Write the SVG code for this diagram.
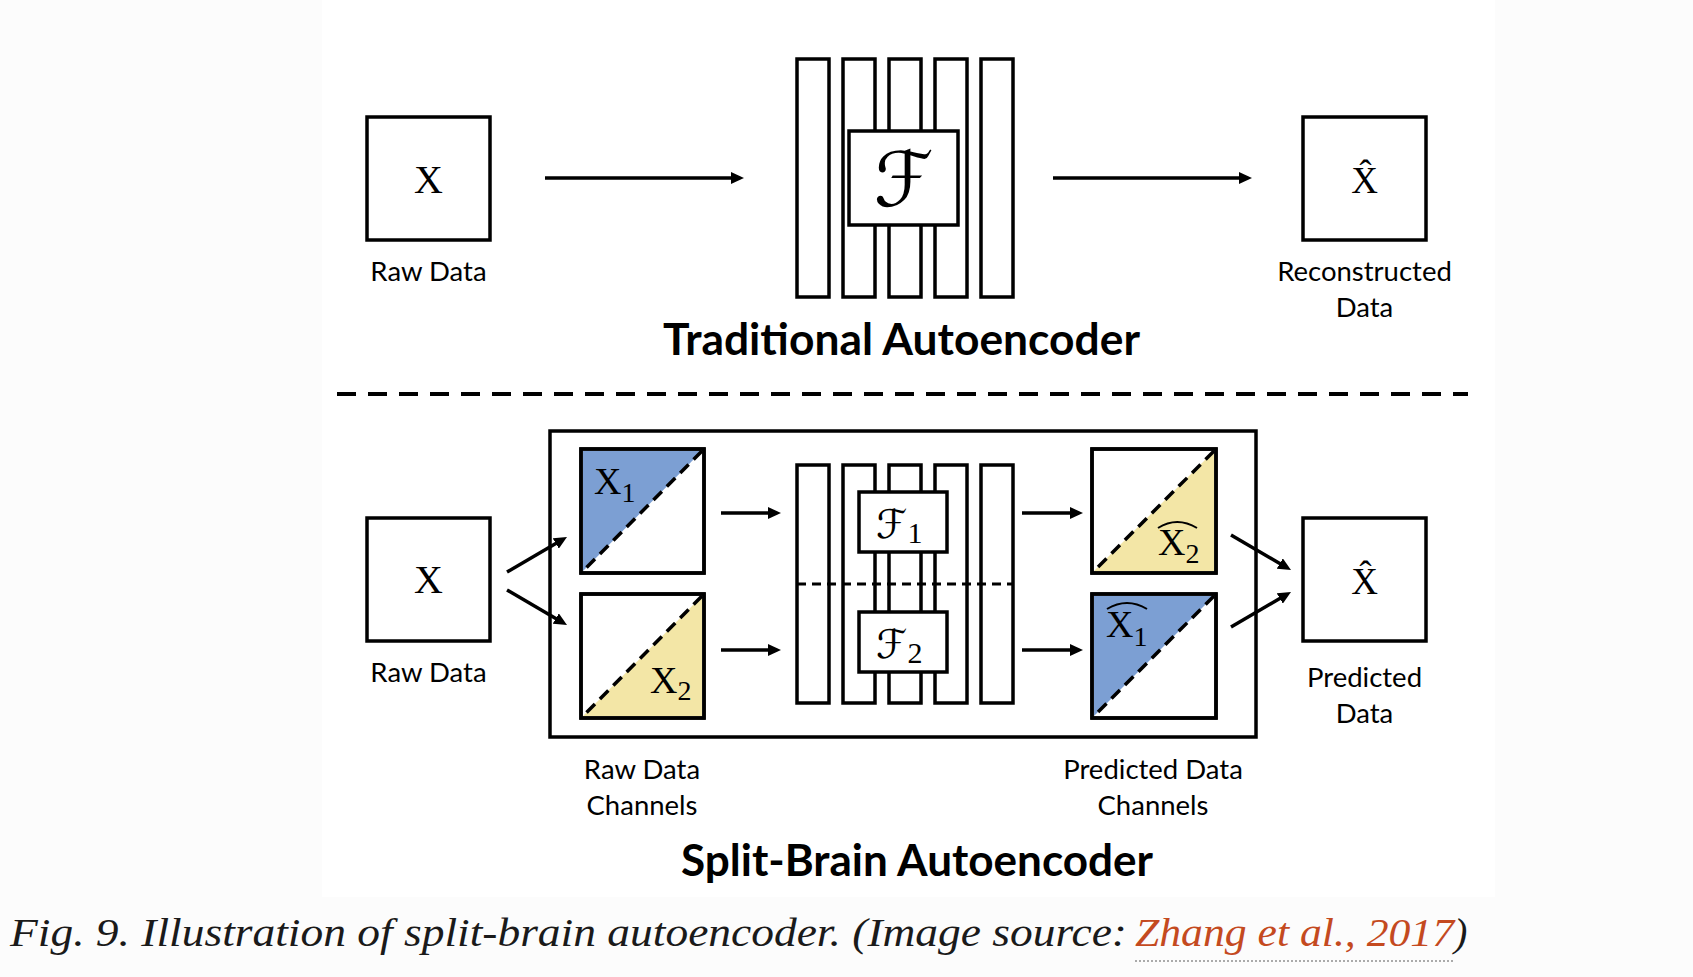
<svg xmlns="http://www.w3.org/2000/svg" width="1693" height="977" viewBox="0 0 1693 977">
<defs>
<style>
.box{fill:#fff;stroke:#000;stroke-width:3.5}
.bar{fill:#fff;stroke:#000;stroke-width:3.5}
.conn{fill:none;stroke:#000;stroke-width:3.5}
.dash{fill:none;stroke:#000;stroke-width:3.5;stroke-dasharray:12 7}
.lbl{font-family:Lato,"Open Sans","Liberation Sans",sans-serif;font-size:27.5px;fill:#000;text-anchor:middle}
.title{font-family:Lato,"Open Sans","Liberation Sans",sans-serif;font-size:43px;font-weight:bold;fill:#000;text-anchor:middle}
.math{font-family:"Liberation Serif","DejaVu Serif",serif;fill:#000}
.cal{font-family:"DejaVu Sans","DejaVu Serif",serif;fill:#000}
.blue{fill:#7c9fd3}
.yel{fill:#f3e6a6}
.cap{font-family:"Liberation Serif","DejaVu Serif",serif;font-style:italic;font-size:40px}
</style>
<marker id="ah" markerWidth="14" markerHeight="12" refX="2" refY="6" orient="auto" markerUnits="userSpaceOnUse"><path d="M0,0 L13,6 L0,12 z" fill="#000"/></marker>
</defs>
<rect x="0" y="0" width="1693" height="977" fill="#fcfcfc"/>
<rect x="322" y="0" width="1173" height="897" fill="#fff"/>

<!-- Top section -->
<g id="raw-top">
<rect class="box" x="367" y="117" width="123" height="123"/>
<text class="math" x="428.5" y="193" font-size="40" text-anchor="middle">X</text>
<text class="lbl" x="428.5" y="281">Raw Data</text>
</g>
<g id="encoder-top">
<rect class="bar" x="797" y="59" width="32" height="238"/>
<rect class="bar" x="843" y="59" width="32" height="238"/>
<rect class="bar" x="889" y="59" width="32" height="238"/>
<rect class="bar" x="935" y="59" width="32" height="238"/>
<rect class="bar" x="981" y="59" width="32" height="238"/>
<rect class="box" x="849" y="131" width="109" height="94"/>
<text class="cal" x="903.5" y="206" font-size="76" text-anchor="middle">ℱ</text>
</g>
<g id="recon">
<rect class="box" x="1303" y="117" width="123" height="123"/>
<text class="math" x="1364.5" y="193" font-size="37" text-anchor="middle">X̂</text>
<text class="lbl" x="1364.5" y="281">Reconstructed</text>
<text class="lbl" x="1364.5" y="317">Data</text>
</g>
<g id="title-traditional">
<text class="title" x="901.5" y="355" textLength="477" lengthAdjust="spacingAndGlyphs">Traditional Autoencoder</text>
</g>
<g id="divider">
<line x1="337" y1="394" x2="1468" y2="394" stroke="#000" stroke-width="4" stroke-dasharray="19 12"/>
</g>

<!-- Bottom section -->
<g id="raw-bottom">
<rect class="box" x="367" y="518" width="123" height="123"/>
<text class="math" x="428.5" y="593" font-size="40" text-anchor="middle">X</text>
<text class="lbl" x="428.5" y="682">Raw Data</text>
</g>
<g id="split-frame">
<rect class="box" x="550" y="431" width="706" height="306" fill="none"/>
</g>
<g id="tile-x1">
<rect class="box" x="581" y="449" width="123" height="124"/>
<path class="blue" d="M583,451 L702,451 L583,571 Z"/>
<line class="dash" x1="702" y1="451" x2="583" y2="571"/>
<rect x="581" y="449" width="123" height="124" fill="none" stroke="#000" stroke-width="3.5"/>
<text class="math" x="594" y="494" font-size="38">X<tspan font-size="28" dy="8">1</tspan></text>
</g>
<g id="tile-x2">
<rect class="box" x="581" y="594" width="123" height="124"/>
<path class="yel" d="M702,596 L702,716 L583,716 Z"/>
<line class="dash" x1="702" y1="596" x2="583" y2="716"/>
<rect x="581" y="594" width="123" height="124" fill="none" stroke="#000" stroke-width="3.5"/>
<text class="math" x="650" y="693" font-size="38">X<tspan font-size="28" dy="7">2</tspan></text>
</g>
<g id="encoder-bottom">
<rect class="bar" x="797" y="465" width="32" height="238"/>
<rect class="bar" x="843" y="465" width="32" height="238"/>
<rect class="bar" x="889" y="465" width="32" height="238"/>
<rect class="bar" x="935" y="465" width="32" height="238"/>
<rect class="bar" x="981" y="465" width="32" height="238"/>
<line x1="797" y1="584" x2="1014" y2="584" stroke="#000" stroke-width="3" stroke-dasharray="9 6"/>
<rect class="box" x="859" y="492" width="88" height="60"/>
<text class="cal" x="876" y="538" font-size="40">ℱ<tspan class="math" font-size="30" dy="5">1</tspan></text>
<rect class="box" x="859" y="612" width="88" height="60"/>
<text class="cal" x="876" y="658" font-size="40">ℱ<tspan class="math" font-size="30" dy="5">2</tspan></text>
</g>
<g id="tile-x2hat">
<rect class="box" x="1092" y="449" width="124" height="124"/>
<path class="yel" d="M1214,451 L1214,571 L1094,571 Z"/>
<line class="dash" x1="1214" y1="451" x2="1094" y2="571"/>
<rect x="1092" y="449" width="124" height="124" fill="none" stroke="#000" stroke-width="3.5"/>
<text class="math" x="1158" y="555" font-size="38">X<tspan font-size="28" dy="8">2</tspan></text>
<path d="M1158,528 Q1177,516 1197,528" fill="none" stroke="#000" stroke-width="2"/>
</g>
<g id="tile-x1hat">
<rect class="box" x="1092" y="594" width="124" height="124"/>
<path class="blue" d="M1094,596 L1214,596 L1094,716 Z"/>
<line class="dash" x1="1214" y1="596" x2="1094" y2="716"/>
<rect x="1092" y="594" width="124" height="124" fill="none" stroke="#000" stroke-width="3.5"/>
<text class="math" x="1106" y="637" font-size="38">X<tspan font-size="28" dy="9">1</tspan></text>
<path d="M1107,609 Q1127,597 1147,609" fill="none" stroke="#000" stroke-width="2"/>
</g>
<g id="pred">
<rect class="box" x="1303" y="518" width="123" height="123"/>
<text class="math" x="1364.5" y="594" font-size="37" text-anchor="middle">X̂</text>
<text class="lbl" x="1364.5" y="687">Predicted</text>
<text class="lbl" x="1364.5" y="723">Data</text>
</g>
<g id="labels-bottom">
<text class="lbl" x="642" y="779">Raw Data</text>
<text class="lbl" x="642" y="815">Channels</text>
<text class="lbl" x="1153" y="779">Predicted Data</text>
<text class="lbl" x="1153" y="815">Channels</text>
<text class="title" x="917" y="876" textLength="472" lengthAdjust="spacingAndGlyphs">Split-Brain Autoencoder</text>
</g>

<g id="connectors">
<path class="conn" d="M545,178 L733,178" marker-end="url(#ah)"/>
<path class="conn" d="M1053,178 L1241,178" marker-end="url(#ah)"/>
<path class="conn" d="M507,572 L557.5,542.5" marker-end="url(#ah)"/>
<path class="conn" d="M507,590 L557.5,619.5" marker-end="url(#ah)"/>
<path class="conn" d="M721,513 L770,513" marker-end="url(#ah)"/>
<path class="conn" d="M721,650 L770,650" marker-end="url(#ah)"/>
<path class="conn" d="M1022,513 L1072,513" marker-end="url(#ah)"/>
<path class="conn" d="M1022,650 L1072,650" marker-end="url(#ah)"/>
<path class="conn" d="M1231,535 L1281.5,564.5" marker-end="url(#ah)"/>
<path class="conn" d="M1231,627 L1281.5,597.5" marker-end="url(#ah)"/>
</g>

<g id="caption">
<text class="cap" x="10" y="946" fill="#1a1a1a" textLength="1117" lengthAdjust="spacingAndGlyphs">Fig. 9. Illustration of split-brain autoencoder. (Image source:</text>
<text class="cap" x="1135" y="946" fill="#c44a1f" textLength="319" lengthAdjust="spacingAndGlyphs">Zhang et al., 2017</text>
<text class="cap" x="1454" y="946" fill="#1a1a1a">)</text>
<line x1="1135" y1="961" x2="1454" y2="961" stroke="#aaa" stroke-width="2" stroke-dasharray="2 2"/>
</g>
</svg>
